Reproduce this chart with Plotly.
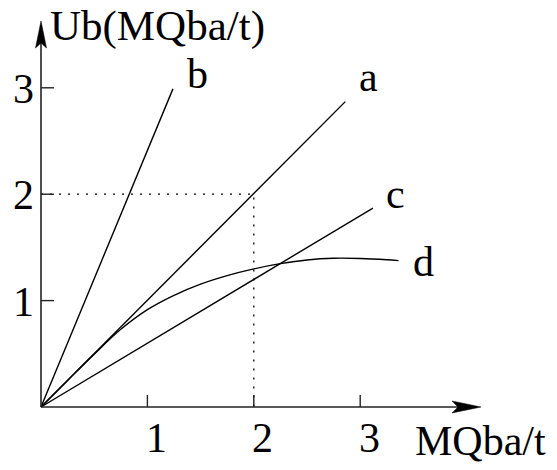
import plotly.graph_objects as go

# ---- data ----
tick_values = [1, 2, 3]
tick_labels = ["1", "2", "3"]

a_x = [0, 2.86]
a_y = [0, 2.87]
b_x = [0, 1.24]
b_y = [0, 2.99]
c_x = [0, 3.12]
c_y = [0, 1.87]
d_x = [0, 0.25, 0.5, 0.75, 1.0, 1.25, 1.5, 1.75, 2.0, 2.25, 2.5, 2.75, 3.0, 3.25, 3.36]
d_y = [0, 0.25, 0.497, 0.73, 0.915, 1.05, 1.155, 1.235, 1.298, 1.347, 1.382, 1.398, 1.396, 1.384, 1.376]

guide_x = 2
guide_y = 2

x_title = "MQba/t"
y_title = "Ub(MQba/t)"
series_names = ["a", "b", "c", "d"]

# ---- geometry (pixel <-> data) ----
W, H = 557, 470
X0, Y0 = 41.0, 407.0     # origin in pixels
S = 106.4                # pixels per unit


def px_x(p):
    return (p - X0) / S


def px_y(p):
    return (Y0 - p) / S


FONT = "Liberation Serif"
FS = 42

fig = go.Figure()

for xs, ys, shape in [(a_x, a_y, "linear"), (b_x, b_y, "linear"),
                      (c_x, c_y, "linear"), (d_x, d_y, "spline")]:
    fig.add_trace(go.Scatter(x=xs, y=ys, mode="lines",
                             line=dict(color="black", width=1.4, shape=shape,
                                       smoothing=1.0),
                             showlegend=False, hoverinfo="skip"))

# dotted guides
fig.add_trace(go.Scatter(x=[0, guide_x, guide_x], y=[guide_y, guide_y, 0],
                         mode="lines",
                         line=dict(color="black", width=1.3, dash="2px,7px"),
                         showlegend=False, hoverinfo="skip"))

shapes = []
ax_col = "#222"
shapes.append(dict(type="line", xref="x", yref="y", x0=0, y0=0, x1=px_x(460), y1=0,
                   line=dict(color=ax_col, width=1.6)))
shapes.append(dict(type="line", xref="x", yref="y", x0=0, y0=0, x1=0, y1=px_y(40),
                   line=dict(color=ax_col, width=1.6)))


def path(pts):
    return "M " + " L ".join(f"{x:.5f},{y:.5f}" for x, y in pts) + " Z"


shapes.append(dict(type="path", xref="x", yref="y",
                   path=path([(px_x(481), 0), (px_x(452), px_y(Y0 - 6)),
                              (px_x(458), 0), (px_x(452), px_y(Y0 + 6))]),
                   fillcolor="black", line=dict(color="black", width=0.5)))
shapes.append(dict(type="path", xref="x", yref="y",
                   path=path([(0, px_y(21)), (px_x(X0 - 5.5), px_y(48)),
                              (0, px_y(43)), (px_x(X0 + 5.5), px_y(48))]),
                   fillcolor="black", line=dict(color="black", width=0.5)))
for v in tick_values:
    shapes.append(dict(type="line", xref="x", yref="y", x0=v, y0=0, x1=v, y1=12 / S,
                       line=dict(color=ax_col, width=1.4)))
    shapes.append(dict(type="line", xref="x", yref="y", x0=0, y0=v, x1=13 / S, y1=v,
                       line=dict(color=ax_col, width=1.4)))

annotations = []
font = dict(family=FONT, size=FS, color="black")
for v, t in zip(tick_values, tick_labels):
    annotations.append(dict(x=v, y=0, xref="x", yref="y", text=t, showarrow=False,
                            xanchor="center", yanchor="middle", xshift=9, yshift=-31,
                            font=font))
    annotations.append(dict(x=0, y=v, xref="x", yref="y", text=t, showarrow=False,
                            xanchor="right", yanchor="middle", xshift=-5, yshift=-1,
                            font=font))

label_pos = {"a": (368, 77), "b": (197, 74), "c": (395, 194), "d": (423, 262)}
for n in series_names:
    px, py = label_pos[n]
    annotations.append(dict(x=px_x(px), y=px_y(py), xref="x", yref="y", text=n,
                            showarrow=False, xanchor="center", yanchor="middle",
                            font=font))

annotations.append(dict(x=px_x(48), y=px_y(0), xref="x", yref="y", text=y_title,
                        showarrow=False, xanchor="left", yanchor="top",
                        font=dict(family=FONT, size=43, color="black")))
annotations.append(dict(x=px_x(413), y=px_y(441), xref="x", yref="y", text=x_title,
                        showarrow=False, xanchor="left", yanchor="middle", font=font))

fig.update_layout(
    width=W, height=H, autosize=False,
    margin=dict(l=0, r=0, t=0, b=0, pad=0),
    paper_bgcolor="white", plot_bgcolor="white",
    xaxis=dict(range=[px_x(0), px_x(W)], visible=False, fixedrange=True),
    yaxis=dict(range=[px_y(H), px_y(0)], visible=False, fixedrange=True),
    shapes=shapes, annotations=annotations,
    font=dict(family=FONT),
)

fig.write_html("out.html", config={"displayModeBar": False},
               post_script="document.body.style.margin='0';document.body.style.padding='0';")
